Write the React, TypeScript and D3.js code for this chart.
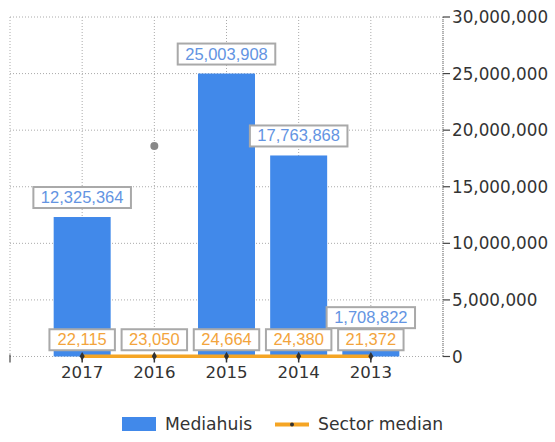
import React from "react";
import * as d3 from "d3";

const categories = ["2017", "2016", "2015", "2014", "2013"];
const companyValues: (number | null)[] = [12325364, null, 25003908, 17763868, 1708822];
const medianValues = [22115, 23050, 24664, 24380, 21372];
const ghostValues: (number | null)[] = [null, 18600000, null, null, null];
const yTicks = [0, 5000000, 10000000, 15000000, 20000000, 25000000, 30000000];
const seriesNames = ["Mediahuis", "Sector median"];

const W = 555, H = 442;
const left = 10, right = 443, top = 17, bottom = 356.5;
const BLUE = "#4189EA";
const BLUE_TEXT = "#6394E2";
const ORANGE = "#F5A524";
const ORANGE_TEXT = "#F3A43C";
const GRID = "#AAAAAA";
const AXIS_TEXT = "#333333";
const VERDANA = "'DejaVu Sans', Verdana, sans-serif";
const LABEL_FONT = "'Liberation Sans', Arial, sans-serif";

const fmt = d3.format(",");

function textWidth(s: string, size: number) {
  let w = 0;
  for (const c of s) w += c === "," ? 0.278 : 0.556;
  return w * size;
}

function Label({ x, yBottom, text, color }: { x: number; yBottom: number; text: string; color: string }) {
  const fs = 16.5;
  const tw = textWidth(text, fs);
  const bw = tw + 15;
  const bh = 21;
  return (
    <g>
      <rect x={x - bw / 2} y={yBottom - bh} width={bw} height={bh} fill="white" stroke="#A9A9A9" strokeWidth={2} />
      <text x={x} y={yBottom - 5} textAnchor="middle" fontFamily={LABEL_FONT} fontSize={fs} fill={color}>
        {text}
      </text>
    </g>
  );
}

export default function App() {
  const x = d3.scalePoint<string>().domain(categories).range([left, right]).padding(1);
  const y = d3.scaleLinear().domain([0, 30000000]).range([bottom, top]);
  const step = x.step();
  const barW = 57;
  const gridXs = d3.range(0, categories.length + 2).map((k) => left + k * step);

  const line = d3
    .line<number>()
    .x((_, i) => x(categories[i])!)
    .y((d) => y(d));

  return (
    <div style={{ position: "absolute", left: 0, top: 0 }}>
      <svg width={W} height={H} style={{ display: "block" }}>
        <rect width={W} height={H} fill="white" />
        {yTicks.map((t) => (
          <line key={"h" + t} x1={left} x2={right} y1={y(t)} y2={y(t)} stroke={GRID} strokeDasharray="1,2" />
        ))}
        {gridXs.map((gx, i) => (
          <line key={"v" + i} x1={gx} x2={gx} y1={top} y2={bottom} stroke={GRID} strokeDasharray="1,2" />
        ))}
        <line x1={right} x2={right} y1={top} y2={bottom} stroke="#999" strokeDasharray="1,1" strokeWidth={1.5} />
        {yTicks.map((t) => (
          <g key={"t" + t}>
            <line x1={right} x2={right + 7} y1={y(t)} y2={y(t)} stroke="#444" strokeWidth={1.2} />
            <text x={right + 9} y={y(t)} dy="0.36em" fontFamily={VERDANA} fontSize={16.8} fill={AXIS_TEXT}>
              {fmt(t)}
            </text>
          </g>
        ))}
        {companyValues.map((v, i) =>
          v == null ? null : (
            <rect key={"b" + i} x={x(categories[i])! - barW / 2} y={y(v)} width={barW} height={bottom - y(v)} fill={BLUE} />
          )
        )}
        {ghostValues.map((v, i) =>
          v == null ? null : <circle key={"g" + i} cx={x(categories[i])!} cy={y(v)} r={4} fill="#888" />
        )}
        <line x1={left} x2={left} y1={bottom - 2} y2={bottom + 6} stroke="#444" strokeWidth={1.2} />
        {categories.map((c) => (
          <line key={"xt" + c} x1={x(c)!} x2={x(c)!} y1={bottom} y2={bottom + 6} stroke="#333" strokeWidth={1.5} />
        ))}
        <path d={line(medianValues)!} fill="none" stroke={ORANGE} strokeWidth={3.5} />
        {medianValues.map((v, i) => (
          <path
            key={"m" + i}
            d={d3.symbol(d3.symbolDiamond, 22)()!}
            transform={`translate(${x(categories[i])},${y(v)})`}
            fill="#333"
          />
        ))}
        {categories.map((c) => (
          <text key={"xl" + c} x={x(c)!} y={378} textAnchor="middle" fontFamily={VERDANA} fontSize={16.6} fill={AXIS_TEXT}>
            {c}
          </text>
        ))}
        {companyValues.map((v, i) =>
          v == null ? null : (
            <Label key={"lb" + i} x={x(categories[i])!} yBottom={y(v) - 9} text={fmt(v)} color={BLUE_TEXT} />
          )
        )}
        {medianValues.map((v, i) => (
          <Label key={"lo" + i} x={x(categories[i])!} yBottom={y(v) - 6} text={fmt(v)} color={ORANGE_TEXT} />
        ))}
        <rect x={122} y={417} width={34} height={14} fill={BLUE} />
        <text x={165} y={430} fontFamily={VERDANA} fontSize={17.2} fill={AXIS_TEXT}>
          {seriesNames[0]}
        </text>
        <line x1={275} x2={309} y1={424.5} y2={424.5} stroke={ORANGE} strokeWidth={4} />
        <circle cx={292} cy={424.5} r={2} fill="#333" />
        <text x={318} y={430} fontFamily={VERDANA} fontSize={17.2} fill={AXIS_TEXT}>
          {seriesNames[1]}
        </text>
      </svg>
    </div>
  );
}
